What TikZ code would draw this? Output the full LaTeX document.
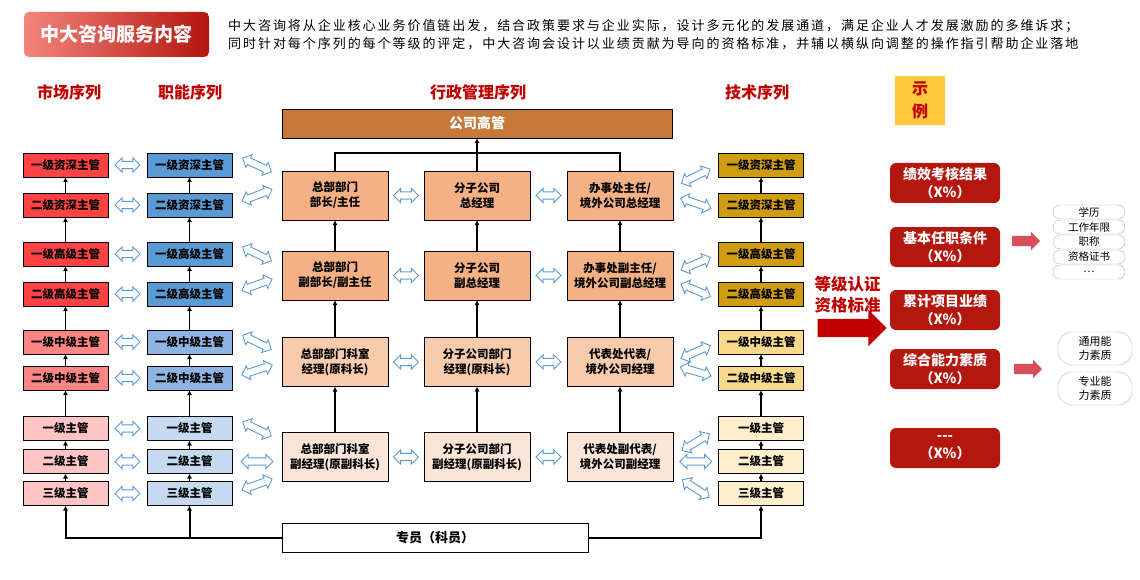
\documentclass[tikz,border=0pt]{standalone}
\usepackage{fontspec}
\setmainfont{Noto Sans CJK SC}
\newfontfamily\descfont[LetterSpace=15]{Noto Sans CJK SC}
\usepackage{tikz}
\usetikzlibrary{positioning,arrows.meta,shapes.arrows,calc}

\definecolor{mktA}{HTML}{FF4343}
\definecolor{mktB}{HTML}{FF8585}
\definecolor{mktC}{HTML}{FFC5C5}
\definecolor{funA}{HTML}{5B9BD5}
\definecolor{funB}{HTML}{8DB4E2}
\definecolor{funC}{HTML}{C5D9F1}
\definecolor{tecA}{HTML}{D09D12}
\definecolor{tecB}{HTML}{F9D98C}
\definecolor{tecC}{HTML}{FDEFCB}
\definecolor{admA}{HTML}{F4B183}
\definecolor{admB}{HTML}{F8CBAD}
\definecolor{admC}{HTML}{FBE5D6}
\definecolor{hqbrown}{HTML}{C5793A}
\definecolor{hdrred}{HTML}{C00000}
\definecolor{critred}{HTML}{B4170E}
\definecolor{arrblue}{HTML}{5B9BD5}
\definecolor{pinkred}{HTML}{D84F5B}
\definecolor{demoyel}{HTML}{FFC83D}
\definecolor{titleL}{HTML}{F3857C}
\definecolor{titleR}{HTML}{B5150F}

\tikzset{
  lvl/.style={draw, line width=0.8pt, outer sep=0pt, minimum width=85pt, minimum height=24pt, inner sep=0pt, font=\fontsize{11.5}{13}\selectfont\bfseries},
  adm/.style={draw, line width=0.8pt, outer sep=0pt, minimum width=106pt, minimum height=49pt, inner sep=0pt, align=center, font=\fontsize{11.5}{15}\selectfont\bfseries},
  hdr/.style={text=hdrred, font=\fontsize{16}{18}\selectfont\bfseries},
  fwd/.style={->, line width=1.5pt, >={Latex[length=5pt,width=5pt]}},
  dbl/.style={double arrow, draw=arrblue, fill=white, line width=0.9pt, minimum height=25pt, inner sep=3.2pt, double arrow head extend=3.5pt},
  dblt/.style={minimum height=32pt},
  crit/.style={rounded corners=6pt, fill=critred, text=white, outer sep=0pt, minimum width=110pt, minimum height=40pt, inner sep=0pt, align=center, font=\fontsize{14}{18}\selectfont\bfseries},
  pill/.style={draw=gray!60, rounded corners=7pt, fill=white, outer sep=0pt, minimum width=72pt, minimum height=14pt, inner sep=0pt, font=\fontsize{10.5}{12}\selectfont},
  bigpill/.style={draw=gray!60, rounded corners=14pt, fill=white, outer sep=0pt, minimum width=74pt, minimum height=33pt, inner sep=0pt, align=center, font=\fontsize{11}{14}\selectfont},
  titlebox/.style={rounded corners=5pt, left color=titleL, right color=titleR, text=white, minimum width=185pt, minimum height=45pt, font=\fontsize{19}{22}\selectfont\bfseries},
  desc/.style={anchor=west, inner sep=0pt, font=\descfont\fontsize{13}{15}\selectfont},
}

% blue double arrow between two points
\newcommand{\dblarr}[3][]{%
  \path let \p1=#2, \p2=#3, \n1={atan2(\y2-\y1,\x2-\x1)} in
    node[dbl,#1,rotate=\n1] at ($(\p1)!0.5!(\p2)$) {};}

\begin{document}
\begin{tikzpicture}[x=1pt, y=-1pt]
  \useasboundingbox (0,0) rectangle (1140,580);

  \node[titlebox] (title) at (116.5,34.5) {中大咨询服务内容};
  \node[desc] (desc1) at (228,26) {中大咨询将从企业核心业务价值链出发，结合政策要求与企业实际，设计多元化的发展通道，满足企业人才发展激励的多维诉求；};
  \node[desc] (desc2) at (228,44) {同时针对每个序列的每个等级的评定，中大咨询会设计以业绩贡献为导向的资格标准，并辅以横纵向调整的操作指引帮助企业落地};

  \node[hdr] (hdrMkt) at (69,92) {市场序列};
  \node[hdr] (hdrFun) at (190,92) {职能序列};
  \node[hdr] (hdrAdm) at (478,92) {行政管理序列};
  \node[hdr] (hdrTec) at (757,92) {技术序列};

  % market column
  \node[lvl, fill=mktA] (mkt1) at (65.5,165) {一级资深主管};
  \node[lvl, fill=mktA] (mkt2) [below=16pt of mkt1] {二级资深主管};
  \node[lvl, fill=mktA] (mkt3) [below=25pt of mkt2] {一级高级主管};
  \node[lvl, fill=mktA] (mkt4) [below=16pt of mkt3] {二级高级主管};
  \node[lvl, fill=mktB] (mkt5) [below=24pt of mkt4] {一级中级主管};
  \node[lvl, fill=mktB] (mkt6) [below=12pt of mkt5] {二级中级主管};
  \node[lvl, fill=mktC] (mkt7) [below=26.5pt of mkt6] {一级主管};
  \node[lvl, fill=mktC] (mkt8) [below=9pt of mkt7] {二级主管};
  \node[lvl, fill=mktC] (mkt9) [below=8pt of mkt8] {三级主管};

  % function column
  \node[lvl, fill=funA] (fun1) [right=39pt of mkt1] {一级资深主管};
  \node[lvl, fill=funA] (fun2) [right=39pt of mkt2] {二级资深主管};
  \node[lvl, fill=funA] (fun3) [right=39pt of mkt3] {一级高级主管};
  \node[lvl, fill=funA] (fun4) [right=39pt of mkt4] {二级高级主管};
  \node[lvl, fill=funB] (fun5) [right=39pt of mkt5] {一级中级主管};
  \node[lvl, fill=funB] (fun6) [right=39pt of mkt6] {二级中级主管};
  \node[lvl, fill=funC] (fun7) [right=39pt of mkt7] {一级主管};
  \node[lvl, fill=funC] (fun8) [right=39pt of mkt8] {二级主管};
  \node[lvl, fill=funC] (fun9) [right=39pt of mkt9] {三级主管};

  % technical column
  \node[lvl, fill=tecA] (tec1) [right=486.5pt of fun1] {一级资深主管};
  \node[lvl, fill=tecA] (tec2) [right=486.5pt of fun2] {二级资深主管};
  \node[lvl, fill=tecA] (tec3) [right=486.5pt of fun3] {一级高级主管};
  \node[lvl, fill=tecA] (tec4) [right=486.5pt of fun4] {二级高级主管};
  \node[lvl, fill=tecB] (tec5) [right=486.5pt of fun5] {一级中级主管};
  \node[lvl, fill=tecB] (tec6) [right=486.5pt of fun6] {二级中级主管};
  \node[lvl, fill=tecC] (tec7) [right=486.5pt of fun7] {一级主管};
  \node[lvl, fill=tecC] (tec8) [right=486.5pt of fun8] {二级主管};
  \node[lvl, fill=tecC] (tec9) [right=486.5pt of fun9] {三级主管};

  % administration block
  \node[adm, fill=admA] (adm11) at (335,195.5) {总部部门\\部长/主任};
  \node[adm, fill=admA] (adm12) [right=36pt of adm11] {分子公司\\总经理};
  \node[adm, fill=admA] (adm13) [right=37pt of adm12] {办事处主任/\\境外公司总经理};
  \node[adm, fill=admA] (adm21) [below=31pt of adm11] {总部部门\\副部长/副主任};
  \node[adm, fill=admA] (adm22) [below=31pt of adm12] {分子公司\\副总经理};
  \node[adm, fill=admA] (adm23) [below=31pt of adm13] {办事处副主任/\\境外公司副总经理};
  \node[adm, fill=admB] (adm31) [below=37.5pt of adm21] {总部部门科室\\经理(原科长)};
  \node[adm, fill=admB] (adm32) [below=37.5pt of adm22] {分子公司部门\\经理(原科长)};
  \node[adm, fill=admB] (adm33) [below=37.5pt of adm23] {代表处代表/\\境外公司经理};
  \node[adm, fill=admC] (adm41) [below=46pt of adm31] {总部部门科室\\副经理(原副科长)};
  \node[adm, fill=admC] (adm42) [below=46pt of adm32] {分子公司部门\\副经理(原副科长)};
  \node[adm, fill=admC] (adm43) [below=46pt of adm33] {代表处副代表/\\境外公司副经理};

  \node[draw, line width=0.8pt, outer sep=0pt, fill=hqbrown, text=white, minimum width=390pt, minimum height=29pt, font=\fontsize{14}{16}\selectfont\bfseries] (hq) [above=33pt of adm12] {公司高管};
  \node[draw, line width=0.8pt, outer sep=0pt, fill=white, minimum width=306pt, minimum height=29pt, font=\fontsize{13}{15}\selectfont\bfseries] (staff) at (435,537.5) {专员（科员）};

  % vertical promotion arrows
  \draw[fwd] (mkt2) -- (mkt1);
  \draw[fwd] (mkt3) -- (mkt2);
  \draw[fwd] (mkt4) -- (mkt3);
  \draw[fwd] (mkt5) -- (mkt4);
  \draw[fwd] (mkt6) -- (mkt5);
  \draw[fwd] (mkt7) -- (mkt6);
  \draw[fwd] (mkt8) -- (mkt7);
  \draw[fwd] (mkt9) -- (mkt8);
  \draw[fwd] (fun2) -- (fun1);
  \draw[fwd] (fun3) -- (fun2);
  \draw[fwd] (fun4) -- (fun3);
  \draw[fwd] (fun5) -- (fun4);
  \draw[fwd] (fun6) -- (fun5);
  \draw[fwd] (fun7) -- (fun6);
  \draw[fwd] (fun8) -- (fun7);
  \draw[fwd] (fun9) -- (fun8);
  \draw[fwd] (tec2) -- (tec1);
  \draw[fwd] (tec3) -- (tec2);
  \draw[fwd] (tec4) -- (tec3);
  \draw[fwd] (tec5) -- (tec4);
  \draw[fwd] (tec6) -- (tec5);
  \draw[fwd] (tec7) -- (tec6);
  \draw[fwd] (tec8) -- (tec7);
  \draw[fwd] (tec9) -- (tec8);
  \draw[fwd] (adm21) -- (adm11);
  \draw[fwd] (adm31) -- (adm21);
  \draw[fwd] (adm41) -- (adm31);
  \draw[fwd] (adm22) -- (adm12);
  \draw[fwd] (adm32) -- (adm22);
  \draw[fwd] (adm42) -- (adm32);
  \draw[fwd] (adm23) -- (adm13);
  \draw[fwd] (adm33) -- (adm23);
  \draw[fwd] (adm43) -- (adm33);

  \draw[line width=1.5pt] (adm11.north) -- ++(0,-18) -| (adm13.north);
  \draw[fwd] (adm12.north) -- (hq.south);

  \draw[fwd, line width=2pt] (staff.west) -| (mkt9.south);
  \draw[fwd, line width=2pt] (staff.west) -| (fun9.south);
  \draw[fwd, line width=2pt] (staff.east) -| (tec9.south);

  % horizontal double arrows
  \dblarr{(mkt1.east)}{(fun1.west)}
  \dblarr{(mkt2.east)}{(fun2.west)}
  \dblarr{(mkt3.east)}{(fun3.west)}
  \dblarr{(mkt4.east)}{(fun4.west)}
  \dblarr{(mkt5.east)}{(fun5.west)}
  \dblarr{(mkt6.east)}{(fun6.west)}
  \dblarr{(mkt7.east)}{(fun7.west)}
  \dblarr{(mkt8.east)}{(fun8.west)}
  \dblarr{(mkt9.east)}{(fun9.west)}
  \dblarr{(adm11.east)}{(adm12.west)}
  \dblarr{(adm12.east)}{(adm13.west)}
  \dblarr{(adm21.east)}{(adm22.west)}
  \dblarr{(adm22.east)}{(adm23.west)}
  \dblarr{(adm31.east)}{(adm32.west)}
  \dblarr{(adm32.east)}{(adm33.west)}
  \dblarr{(adm41.east)}{(adm42.west)}
  \dblarr{(adm42.east)}{(adm43.west)}

  % tilted double arrows, function column to administration
  \dblarr[dblt]{(fun1.north east)}{($(adm11.north west)+(0,6)$)}
  \dblarr[dblt]{(fun2.east)}{($(adm11.west)+(0,-10)$)}
  \dblarr[dblt]{(fun3.north east)}{($(adm21.north west)+(0,15)$)}
  \dblarr[dblt]{(fun4.east)}{(adm21.west)}
  \dblarr[dblt]{(fun5.north east)}{($(adm31.north west)+(0,17)$)}
  \dblarr[dblt]{(fun6.east)}{(adm31.west)}
  \dblarr[dblt]{(fun7.north east)}{($(adm41.north west)+(0,9)$)}
  \dblarr[dblt]{(fun8.east)}{($(adm41.south west)+(0,-20)$)}
  \dblarr[dblt]{(fun9.east)}{($(adm41.south west)+(0,-6)$)}

  % tilted double arrows, administration to technical column
  \dblarr[dblt]{($(adm13.east)+(0,-8)$)}{(tec1.west)}
  \dblarr[dblt]{(adm13.east)}{($(tec2.west)+(0,6)$)}
  \dblarr[dblt]{($(adm23.east)+(0,-2)$)}{(tec3.west)}
  \dblarr[dblt]{($(adm23.east)+(0,5)$)}{($(tec4.west)+(0,6)$)}
  \dblarr[dblt]{(adm33.east)}{(tec5.west)}
  \dblarr[dblt]{($(adm33.east)+(0,3)$)}{(tec6.west)}
  \dblarr[dblt]{($(adm43.east)+(0,-1)$)}{(tec7.west)}
  \dblarr[dblt]{($(adm43.south east)+(0,-20)$)}{(tec8.west)}
  \dblarr[dblt]{($(adm43.south east)+(0,-8)$)}{($(tec9.west)+(0,10)$)}

  % certification criteria
  \node[single arrow, fill=hdrred, minimum height=69pt, inner sep=9pt, single arrow head extend=9pt] (big) at (847.5,328) {};
  \node[text=hdrred, align=center, font=\fontsize{16.5}{21}\selectfont\bfseries] (cert) [above=2pt of big] {等级认证\\资格标准};

  \node[fill=demoyel, text=hdrred, minimum width=50pt, minimum height=49pt, inner sep=0pt, align=center, font=\fontsize{16}{23}\selectfont\bfseries] (demo) at (920,100.5) {示\\例};

  \node[crit] (crit1) at (945,183) {绩效考核结果\\（X\%）};
  \node[crit] (crit2) [below=24pt of crit1] {基本任职条件\\（X\%）};
  \node[crit] (crit3) [below=23pt of crit2] {累计项目业绩\\（X\%）};
  \node[crit] (crit4) [below=19pt of crit3] {综合能力素质\\（X\%）};
  \node[crit] (crit5) [below=39pt of crit4] {-{}-{}-\\（X\%）};

  \node[single arrow, fill=pinkred, minimum height=28pt, inner sep=5pt, single arrow head extend=4pt] (parr1) [right=12pt of crit2, yshift=6pt] {};
  \node[single arrow, fill=pinkred, minimum height=28pt, inner sep=5pt, single arrow head extend=4pt] (parr2) [right=14pt of crit4] {};

  \node[pill] (pill1) at (1089,212) {学历};
  \node[pill] (pill2) [below=1pt of pill1] {工作年限};
  \node[pill] (pill3) [below=1pt of pill2] {职称};
  \node[pill] (pill4) [below=1pt of pill3] {资格证书};
  \node[pill] (pill5) [below=1pt of pill4] {…};

  \node[bigpill] (ability1) at (1095,348.5) {通用能\\力素质};
  \node[bigpill] (ability2) [below=7pt of ability1] {专业能\\力素质};
\end{tikzpicture}
\end{document}
